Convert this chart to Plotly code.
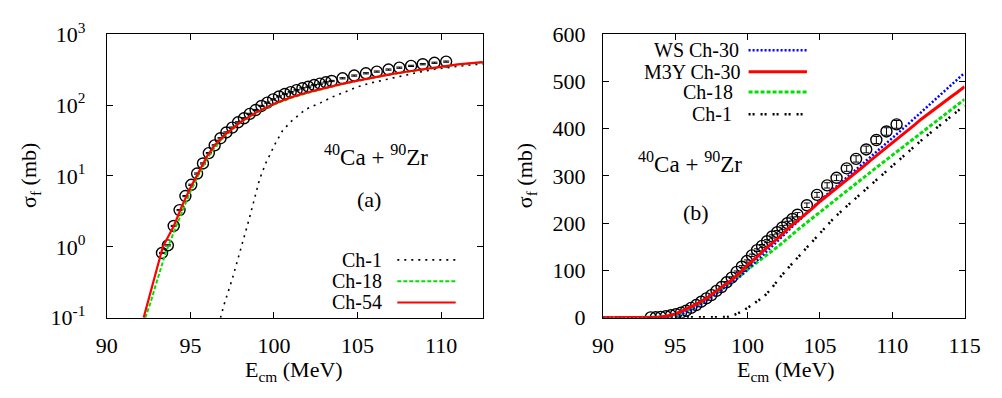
import plotly.graph_objects as go

W, H = 1002, 398

# ---------------- data ----------------
# experimental fusion cross sections (both panels)
exp_x = [93.3, 93.65, 94.0, 94.35, 94.7, 95.05, 95.4, 95.75, 96.1, 96.45, 96.8, 97.15, 97.5,
         97.85, 98.2, 98.55, 98.9, 99.25, 99.6, 99.95, 100.3, 100.65, 101.0, 101.35, 101.7,
         102.05, 102.4, 102.75, 103.1, 103.45, 104.1, 104.8, 105.5, 106.15, 106.85, 107.5,
         108.2, 108.9, 109.6, 110.3]
exp_y = [0.82, 1.05, 1.97, 3.3, 5.2, 7.5, 10.8, 15, 21, 27, 34, 41, 48, 57, 65, 75, 85, 97,
         108, 120, 132, 143, 152, 162, 172, 181, 191, 200, 209, 218, 238, 260, 280, 296, 316,
         336, 356, 376, 394, 409]

# panel (a)
a_ch1_x = [96.8, 97.0, 97.5, 98.05, 98.5, 99.14, 99.5, 100.06, 100.5, 101.0, 101.9, 102.8,
           103.5, 104.2, 105.0, 105.8, 106.8, 107.7, 108.7, 109.7, 110.7, 111.5, 112.5]
a_ch1_y = [0.1, 0.15, 0.35, 1.0, 2.4, 9, 15, 28, 43, 58, 87, 108, 130, 151, 180, 205, 231,
           262, 291, 322, 348, 362, 380]
a_ch18_x = [92.3, 92.6, 93.0, 93.5, 94.0, 94.5, 95.0, 95.5, 96.0, 96.5, 97.0, 98.0, 99.0,
            100.0, 101.0, 102.0, 103.0, 104.0, 105.0, 106.0, 107.0, 108.0, 109.0, 110.0,
            111.0, 112.5]
a_ch18_y = [0.1, 0.16, 0.33, 0.8, 1.6, 3.1, 6.0, 10.5, 17.5, 26, 36, 57, 79, 102, 125, 148,
            171, 195, 219, 244, 271, 295, 319, 343, 371, 401]
a_ch54_x = [92.2, 92.5, 93.0, 93.35, 94.0, 94.5, 95.0, 95.5, 96.0, 96.5, 97.0, 98.0, 99.0,
            100.0, 101.0, 102.0, 103.0, 104.0, 105.0, 106.0, 107.0, 108.0, 109.0, 110.0,
            111.0, 112.5]
a_ch54_y = [0.1, 0.18, 0.48, 1.0, 1.95, 3.8, 6.8, 11.5, 19, 28, 37, 58, 80, 104, 128, 150,
            173, 197, 221, 247, 273, 297, 320, 345, 373, 402]

# panel (b)
b_ws_x = [90, 93.5, 94.5, 95.0, 95.5, 96.0, 96.6, 97.2, 97.7, 98.3, 98.9, 99.5, 100.0, 101.0,
          102.0, 103.0, 104.0, 105.0, 106.0, 107.0, 108.0, 109.0, 110.0, 111.0, 112.0, 113.0,
          114.0, 115.0]
b_ws_y = [0, 0, 1, 3, 8, 15, 25, 37, 48, 60, 73, 88, 102, 130, 160, 190, 220, 248, 274, 300,
          327, 353, 380, 407, 435, 462, 490, 518]
b_m3y_x = [90, 93.0, 93.8, 94.4, 95.0, 95.5, 96.0, 96.6, 97.2, 97.7, 98.3, 98.9, 99.5, 100.0,
           100.6, 101.1, 101.7, 102.2, 102.9, 103.5, 104.0, 104.5, 105.0, 105.5, 106.0, 106.5,
           107.0, 107.5, 108.0, 108.5, 109.0, 109.5, 110.0, 110.5, 111.0, 111.5, 112.0, 112.5,
           113.0, 113.5, 114.0, 114.5, 115.0]
b_m3y_y = [0, 0, 1, 3.3, 8, 14.5, 22, 31, 42, 54, 67, 80, 96, 112, 127, 142, 157, 171, 191,
           206, 219, 232, 246, 258, 271, 283, 295, 308, 320, 333, 345, 357, 370, 381, 393, 407,
           420, 432, 444, 455, 466, 477, 489]
b_ch18_x = [90, 93.5, 94.5, 95.0, 95.5, 96.0, 96.6, 97.2, 97.7, 98.3, 98.9, 99.5, 100.0, 101.0,
            102.2, 103.5, 105.0, 106.0, 107.0, 108.0, 109.0, 110.0, 111.0, 112.0, 113.0, 114.0,
            115.0]
b_ch18_y = [0, 0, 1.5, 4, 10, 18, 28, 40, 51, 63, 76, 89, 102, 126, 153, 187, 224, 248, 272,
            296, 320, 344, 368, 392, 415, 438, 462]
b_ch1_x = [90, 98.0, 98.6, 99.0, 99.5, 100.0, 100.5, 101.1, 101.6, 102.2, 103.0, 104.0, 105.0,
           106.0, 107.0, 108.0, 109.0, 110.0, 111.0, 112.0, 113.0, 114.0, 115.0]
b_ch1_y = [0, 0, 1.5, 5, 12, 21, 31, 44, 60, 84, 112, 146, 180, 212, 240, 267, 295, 323, 350,
           375, 400, 425, 449]

log_ticks = [0.1, 1, 10, 100, 1000]
log_ticktext = ["10<sup>-1</sup>", "10<sup>0</sup>", "10<sup>1</sup>", "10<sup>2</sup>",
                "10<sup>3</sup>"]

# ---------------- styling helpers ----------------
FONT = "Liberation Serif"
FS = 22
LEG_FS = 20
RED = "#ff0000"
GREEN = "#00e000"
BLUE = "#0000ff"
BLACK = "#000000"


def px(x):
    return x / W


def py(y):
    return 1 - y / H


fig = go.Figure()

marker = dict(symbol="circle-open", size=11, color=BLACK, line=dict(width=1.4, color=BLACK))
err = dict(type="percent", value=2, width=3, thickness=1, color=BLACK)

# panel (a)
fig.add_trace(go.Scatter(x=exp_x, y=exp_y, mode="markers", marker=marker, error_y=err,
                         xaxis="x", yaxis="y", showlegend=False))
fig.add_trace(go.Scatter(x=a_ch1_x, y=a_ch1_y, mode="lines",
                         line=dict(color=BLACK, width=1.6, dash="2px,5px"),
                         xaxis="x", yaxis="y", showlegend=False))
fig.add_trace(go.Scatter(x=a_ch18_x, y=a_ch18_y, mode="lines",
                         line=dict(color=GREEN, width=2, dash="4px,2px"),
                         xaxis="x", yaxis="y", showlegend=False))
fig.add_trace(go.Scatter(x=a_ch54_x, y=a_ch54_y, mode="lines",
                         line=dict(color=RED, width=2.2),
                         xaxis="x", yaxis="y", showlegend=False))

# panel (b)
fig.add_trace(go.Scatter(x=exp_x, y=exp_y, mode="markers", marker=marker, error_y=err,
                         xaxis="x2", yaxis="y2", showlegend=False))
fig.add_trace(go.Scatter(x=b_ch1_x, y=b_ch1_y, mode="lines",
                         line=dict(color=BLACK, width=2.5, dash="2px,2px,2px,6px"),
                         xaxis="x2", yaxis="y2", showlegend=False))
fig.add_trace(go.Scatter(x=b_ch18_x, y=b_ch18_y, mode="lines",
                         line=dict(color=GREEN, width=3, dash="4px,2px"),
                         xaxis="x2", yaxis="y2", showlegend=False))
fig.add_trace(go.Scatter(x=b_ws_x, y=b_ws_y, mode="lines",
                         line=dict(color=BLUE, width=2.5, dash="2px,2px"),
                         xaxis="x2", yaxis="y2", showlegend=False))
fig.add_trace(go.Scatter(x=b_m3y_x, y=b_m3y_y, mode="lines",
                         line=dict(color=RED, width=3),
                         xaxis="x2", yaxis="y2", showlegend=False))

axis_common = dict(showline=True, linecolor=BLACK, linewidth=1, mirror="allticks",
                   ticks="inside", ticklen=6, tickwidth=1, tickcolor=BLACK,
                   showgrid=False, zeroline=False,
                   tickfont=dict(family=FONT, size=FS, color=BLACK))

ydom = [py(325.5), py(19.5)]
fig.update_layout(
    width=W, height=H,
    margin=dict(l=0, r=0, t=0, b=0),
    paper_bgcolor="white", plot_bgcolor="white",
    xaxis=dict(domain=[px(98.5), px(485)], range=[90, 112.5], tickvals=[90, 95, 100, 105, 110],
               anchor="y", ticklabelstandoff=8, **axis_common),
    yaxis=dict(domain=ydom, type="log", range=[-1, 3], tickvals=log_ticks,
               ticktext=log_ticktext, anchor="x", ticklabelstandoff=16, **axis_common),
    xaxis2=dict(domain=[px(608.3), px(980)], range=[90, 115],
                tickvals=[90, 95, 100, 105, 110, 115], anchor="y2", ticklabelstandoff=8,
                **axis_common),
    yaxis2=dict(domain=ydom, range=[0, 600], tickvals=[0, 100, 200, 300, 400, 500, 600],
                anchor="x2", ticklabelstandoff=12, **axis_common),
)

ann = []


def text(x, y, s, anchor="center", size=FS, angle=0):
    ann.append(dict(x=px(x), y=py(y), xref="paper", yref="paper", text=s, showarrow=False,
                    xanchor=anchor, yanchor="middle", textangle=angle,
                    font=dict(family=FONT, size=size, color=BLACK)))


# axis titles
text(20, 172, "σ<sub>f</sub> (mb)", angle=-90)
text(530, 172, "σ<sub>f</sub> (mb)", angle=-90)
text(291, 383, "E<sub>cm</sub> (MeV)")
text(796, 383, "E<sub>cm</sub> (MeV)")

# panel labels
text(375, 150, "<sup>40</sup>Ca + <sup>90</sup>Zr", size=23)
text(368, 198, "(a)")
text(698, 158, "<sup>40</sup>Ca + <sup>90</sup>Zr", size=23)
text(704, 212, "(b)")

# legend (a)
shapes = []


def sample(x0, x1, y, color, width, dash):
    shapes.append(dict(type="line", xref="paper", yref="paper", x0=px(x0), x1=px(x1),
                       y0=py(y), y1=py(y), line=dict(color=color, width=width, dash=dash)))


legA = [("Ch-1", BLACK, 1.6, "2px,5px"), ("Ch-18", GREEN, 2, "4px,2px"),
        ("Ch-54", RED, 2.2, "solid")]
for i, (lab, c, w, d) in enumerate(legA):
    yy = 263 + i * 23
    text(383, yy, lab, anchor="right", size=LEG_FS)
    sample(397, 457, yy, c, w, d)

legB = [("WS Ch-30", BLUE, 2.5, "2px,2px", 750), ("M3Y Ch-30", RED, 3, "solid", 751),
        ("Ch-18", GREEN, 3, "4px,2px", 744), ("Ch-1", BLACK, 2.5, "2px,2px,2px,6px", 743)]
ys = [37, 60, 82, 106]
for (lab, c, w, d, xr), yy in zip(legB, ys):
    text(xr, yy, lab, anchor="right", size=LEG_FS)
    sample(758, 818, yy, c, w, d)

fig.update_layout(annotations=ann, shapes=shapes)

fig.write_html("out.html")
